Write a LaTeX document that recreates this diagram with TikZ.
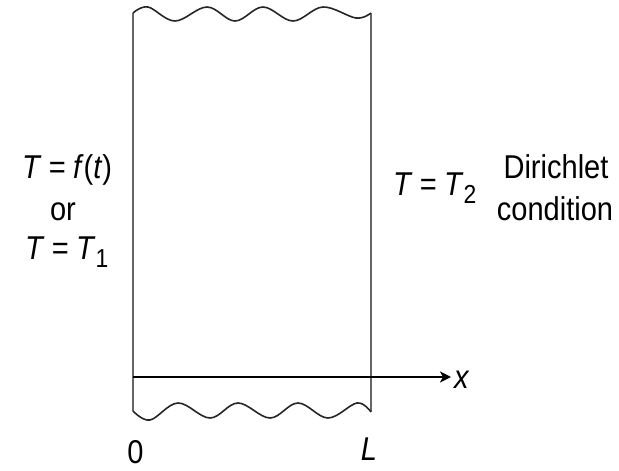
\documentclass[tikz,border=0pt]{standalone}
\usepackage{fontspec}
\setmainfont[FakeStretch=0.88]{Liberation Sans}
\usetikzlibrary{arrows.meta}
\newcommand{\vT}{\textit{T}}
\newcommand{\eqs}{\hspace{0.22em}=\hspace{0.22em}}
\newcommand{\lowsub}[1]{\raisebox{-8pt}{\fontsize{26}{28}\selectfont #1}}
\begin{document}
\begin{tikzpicture}[x=1pt,y=-1pt,
  wall/.style={line width=1.8pt,draw=black!60},
  wave/.style={line width=1.6pt,draw=black!85},
  axisline/.style={line width=1.9pt,draw=black,-{Stealth[length=11pt,width=11pt,inset=3pt]}},
  lbl/.style={font=\fontsize{33}{40}\selectfont,inner sep=0pt,align=center}]
\useasboundingbox (0,0) rectangle (619,471);
\coordinate (tl) at (133,13);
\coordinate (tr) at (371,13);
\coordinate (bl) at (133,411);
\coordinate (br) at (371,412);
\draw[wall] (tl) -- (bl);
\draw[wall] (tr) -- (br);
\draw[wave] plot[smooth,tension=0.6] coordinates {(133,13) (148,7) (175,21) (207,7) (235,21) (263,7) (293,21) (323,7) (356,18) (371,13)};
\draw[wave] plot[smooth,tension=0.6] coordinates {(133,411) (150,420) (178,403) (210,418) (238,403) (270,418) (298,403) (328,418) (357,403) (371,412)};
\coordinate (xo) at (133,377);
\coordinate (xe) at (451,377);
\draw[axisline] (xo) -- (xe);
\node[lbl,anchor=base west] (xl) at (454,388) {\textit{x}};
\node[lbl,anchor=base] (zero) at (135.5,463) {0};
\node[lbl,anchor=base] (Ll) at (369,460) {\textit{L}};
\node[lbl,anchor=base west] (l1) at (22,178) {\vT\eqs\textit{f}(\textit{t})};
\node[lbl,anchor=base] (l2) at (63,220) {or};
\node[lbl,anchor=base west] (l3) at (25,259) {\vT\eqs\vT\lowsub{1}};
\node[lbl,anchor=base west] (r1) at (393,195) {\vT\eqs\vT\lowsub{2}};
\node[lbl,anchor=base] (r2) at (556,178) {Dirichlet};
\node[lbl,anchor=base] (r3) at (555,220) {condition};
\end{tikzpicture}
\end{document}
